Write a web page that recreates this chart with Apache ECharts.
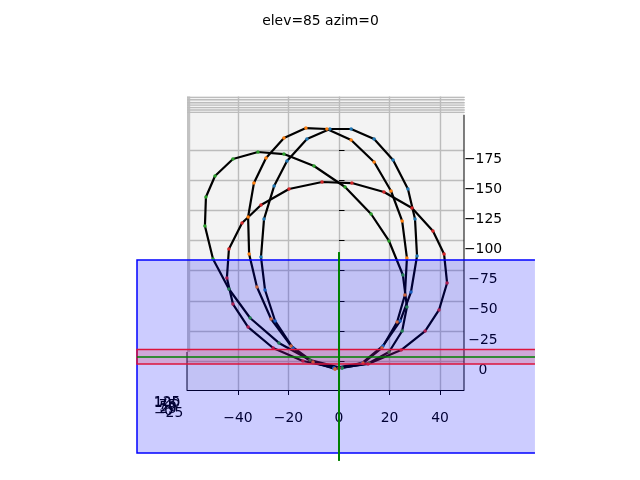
<!DOCTYPE html>
<html><head><meta charset="utf-8">
<style>html,body{margin:0;padding:0;background:#fff}#c{width:640px;height:480px}</style>
<script src="https://cdn.jsdelivr.net/npm/echarts@6/dist/echarts.min.js"></script>
</head><body><div id="c"></div>
<script>
const titleText = 'elev=85 azim=0';
const xTicks = [-40, -20, 0, 20, 40];
const yTicks = [-175, -150, -125, -100, -75, -50, -25, 0];
const blueLoop = [[-2.0,5.8],[9.1,1.7],[17.4,-12.5],[24.2,-33.2],[28.5,-57.3],[30.9,-87.2],[30.1,-117.9],[27.3,-142.9],[21.4,-166.9],[13.9,-184.4],[4.8,-192.7],[-3.6,-192.7],[-12.7,-184.4],[-20.6,-166.1],[-25.7,-145.3],[-29.7,-117.9],[-30.9,-86.4],[-29.3,-59.0],[-25.3,-33.2],[-18.2,-10.8],[-10.3,1.7],[-2.0,5.8]];
const orangeLoop = [[-1.6,6.6],[9.5,1.7],[17.0,-10.8],[23.0,-32.4],[26.1,-54.8],[26.9,-85.5],[25.0,-116.3],[20.6,-141.2],[13.9,-165.3],[4.8,-183.6],[-4.8,-192.7],[-13.1,-193.5],[-21.8,-185.2],[-28.9,-168.6],[-33.7,-147.8],[-36.0,-119.6],[-35.6,-88.9],[-32.5,-61.5],[-26.9,-34.9],[-19.0,-12.5],[-10.3,0.8],[-1.6,6.6]];
const greenLoop = [[1.2,5.8],[11.9,1.7],[19.8,-7.5],[25.0,-24.9],[26.9,-44.9],[25.3,-71.4],[19.8,-99.7],[12.7,-122.1],[2.4,-144.5],[-9.9,-162.0],[-21.8,-171.9],[-32.1,-173.6],[-42.0,-167.8],[-49.1,-153.7],[-52.7,-136.2],[-53.1,-112.1],[-49.9,-84.7],[-43.6,-59.8],[-35.2,-35.7],[-23.8,-15.0],[-11.5,-0.8],[1.2,5.8]];
const redLoop = [[0,5.8],[11.5,2.5],[24.6,-9.1],[34.1,-24.9],[39.6,-42.4],[42.8,-64.8],[41.6,-88.9],[37.2,-108.0],[28.9,-127.1],[17.8,-140.4],[5.1,-147.8],[-6.7,-148.7],[-19.8,-142.9],[-30.9,-129.6],[-38.4,-114.6],[-43.6,-93.0],[-44.4,-68.9],[-42.0,-47.3],[-36.0,-28.2],[-26.1,-10.8],[-14.3,0],[0,5.8]];
const loops = [[blueLoop,'#1f77b4'],[orangeLoop,'#ff7f0e'],[greenLoop,'#2ca02c'],[redLoop,'#d62728']];
const xLim = [-60.2, 49.5];
const yLim = [-219.7, 24.09];
// wall levels along the top of the pane
const wallLevels = [-219, -217, -214.5, -212.5, -210.5, -208.5, -206.5];
const zTickLabels = ['125','100','75','50','25','0','−25'];
const zLabelX = [-68.1,-68.1,-67.9,-67.7,-67.7,-67.5,-67.5];
const zLabelY = [34.0,35.5,37.0,38.4,39.9,41.5,43.6];
const blueBand = [-80, 77.6, -83.9, 76.4];
const redBand = [-80, 77.6, -9.6, 2.5];
const greenV = [0, -90.5, 83];
const greenH = [-80, 77.6, -3.3];
const GRAY = '#bcbcbc';

function lineEl(api, a, b, color, w){
  const p = api.coord(a), q = api.coord(b);
  return {type:'line', shape:{x1:p[0],y1:p[1],x2:q[0],y2:q[1]}, style:{stroke:color, lineWidth:w, fill:null}};
}
function bandEls(api, r, color, fill, w){
  const p = api.coord([r[0], r[2]]), q = api.coord([r[1], r[3]]);
  return [
    {type:'rect', shape:{x:p[0],y:p[1],width:q[0]-p[0],height:q[1]-p[1]}, style:{fill:fill, stroke:null}},
    {type:'polyline', shape:{points:[[q[0],p[1]],[p[0],p[1]],[p[0],q[1]],[q[0],q[1]]]}, style:{stroke:color, lineWidth:w, fill:null}}
  ];
}
const paneSeries = {
  type:'custom', coordinateSystem:'cartesian2d', silent:true, z:1, clip:false, data:[[0,0]],
  encode:{x:0,y:1},
  renderItem:(p, api)=>{
    const kids = [];
    const a = api.coord([xLim[0], yLim[0]]), b = api.coord([xLim[0], -7.5]);
    kids.push({type:'rect', shape:{x:a[0],y:a[1],width:3.2,height:b[1]-a[1]}, style:{fill:'#c2c2c2'}});
    wallLevels.forEach(v=>kids.push(lineEl(api,[xLim[0],v],[xLim[1]+0.3,v],GRAY,1.4)));
    kids.push(lineEl(api,[xLim[1],-204.5],[xLim[1],yLim[1]],'#000',1));
    kids.push(lineEl(api,[xLim[0],-7.5],[xLim[0],yLim[1]],'#000',1));
    zTickLabels.forEach((t,i)=>{
      const c = api.coord([zLabelX[i], zLabelY[i]]);
      kids.push({type:'text', x:c[0], y:c[1], style:{text:t, fill:'#000', font:'13.9px "DejaVu Sans"', align:'center', verticalAlign:'middle'}});
    });
    return {type:'group', children:kids};
  }
};
const overlaySeries = {
  type:'custom', coordinateSystem:'cartesian2d', silent:true, z:10, clip:false, data:[[0,0]],
  encode:{x:0,y:1},
  renderItem:(p, api)=>{
    const kids = [];
    kids.push(...bandEls(api, blueBand, '#0000ff', 'rgba(0,0,255,0.2)', 1.5));
    kids.push(...bandEls(api, redBand, '#dc143c', 'rgba(220,20,60,0.2)', 1.5));
    kids.push(lineEl(api,[greenH[0],greenH[2]],[greenH[1],greenH[2]],'#008000',1.5));
    kids.push(lineEl(api,[greenV[0],greenV[1]],[greenV[0],greenV[2]],'#008000',2));
    return {type:'group', children:kids};
  }
};
const loopSeries = loops.map(([d,c])=>({
  type:'line', data:d, z:5, clip:false, silent:true, showSymbol:true, showAllSymbols:true,
  symbol:'circle', symbolSize:3.5, itemStyle:{color:c},
  lineStyle:{color:'#000', width:2.2}, emphasis:{disabled:true}
}));
const minus = v => String(v).replace('-', '−');
echarts.init(document.getElementById('c'), null, {renderer:'canvas'}).setOption({
  animation:false,
  title:{text:titleText, left:315.5, top:9, textAlign:'center',
    textStyle:{fontFamily:'DejaVu Sans', fontSize:13.9, fontWeight:'normal', color:'#000'}},
  grid:{left:187, top:96.5, width:277, height:293.5, show:true, backgroundColor:'#f3f3f3', borderWidth:0},
  xAxis:{type:'value', min:xLim[0], max:xLim[1],
    axisLine:{show:true, onZero:false, lineStyle:{color:'#000', width:1}},
    axisTick:{show:true, length:5, customValues:xTicks, lineStyle:{color:'#000', width:1}},
    axisLabel:{customValues:xTicks, formatter:minus, margin:21, fontFamily:'DejaVu Sans', fontSize:13.9, color:'#000'},
    splitLine:{show:true, lineStyle:{color:GRAY, width:1.4}}},
  yAxis:{type:'value', inverse:true, position:'right', min:yLim[0], max:yLim[1],
    axisLine:{show:false},
    axisTick:{show:true, length:5.5, customValues:yTicks, lineStyle:{color:'#000', width:1}},
    axisLabel:{customValues:yTicks, formatter:minus, align:'center', verticalAlign:'top', lineHeight:18, margin:19,
      fontFamily:'DejaVu Sans', fontSize:13.9, color:'#000'},
    splitLine:{show:true, lineStyle:{color:GRAY, width:1.4}}},
  series:[paneSeries, ...loopSeries, overlaySeries]
});
</script></body></html>
